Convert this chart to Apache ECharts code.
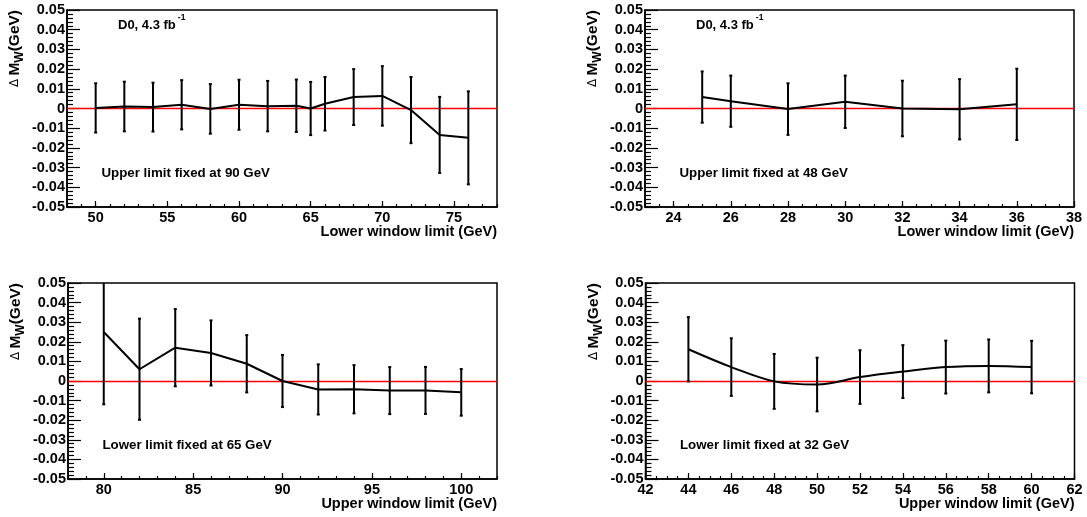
<!DOCTYPE html>
<html>
<head>
<meta charset="utf-8">
<script src="https://cdn.jsdelivr.net/npm/echarts@6/dist/echarts.min.js"></script>
<style>
html,body{margin:0;padding:0;background:#fff;}
#c{width:1087px;height:517px;}
</style>
</head>
<body>
<div id="c"></div>
<script>
// ---- data ----
const p1X = [50, 52, 54, 56, 58, 60, 62, 64, 65, 66, 68, 70, 72, 74, 76];
const p1Y = [0.0003, 0.0010, 0.0007, 0.0019, -0.0002, 0.0019, 0.0012, 0.0014, 0.0000, 0.0024, 0.0058, 0.0064, -0.0008, -0.0134, -0.0149];
const p1E = [0.0125, 0.0126, 0.0124, 0.0125, 0.0126, 0.0127, 0.0128, 0.0133, 0.0135, 0.0136, 0.0142, 0.0151, 0.0168, 0.0193, 0.0236];

const p2X = [25, 26, 28, 30, 32, 34, 36];
const p2Y = [0.0058, 0.0037, -0.0003, 0.0034, 0.0000, -0.0004, 0.0021];
const p2E = [0.0130, 0.0130, 0.0131, 0.0133, 0.0141, 0.0153, 0.0181];

const p3X = [80, 82, 84, 86, 88, 90, 92, 94, 96, 98, 100];
const p3Y = [0.0250, 0.0060, 0.0170, 0.0143, 0.0088, 0.0000, -0.0043, -0.0042, -0.0049, -0.0048, -0.0058];
const p3E = [0.0369, 0.0258, 0.0197, 0.0166, 0.0146, 0.0133, 0.0128, 0.0123, 0.0120, 0.0120, 0.0119];

const p4X = [44, 46, 48, 50, 52, 54, 56, 58, 60];
const p4Y = [0.0162, 0.0071, -0.0002, -0.0018, 0.0020, 0.0048, 0.0071, 0.0077, 0.0071];
const p4E = [0.0164, 0.0147, 0.0140, 0.0137, 0.0137, 0.0135, 0.0135, 0.0135, 0.0134];

// tick labels
const p1Ticks = [50, 55, 60, 65, 70, 75];
const p2Ticks = [24, 26, 28, 30, 32, 34, 36, 38];
const p3Ticks = [80, 85, 90, 95, 100];
const p4Ticks = [42, 44, 46, 48, 50, 52, 54, 56, 58, 60, 62];

const xRanges = [[48, 78], [23, 38], [78, 102], [42, 62]];
const minorSteps = [1, 0.5, 1, 0.5];
const xTitles = ['Lower window limit (GeV)', 'Lower window limit (GeV)', 'Upper window limit (GeV)', 'Upper window limit (GeV)'];
const notes = ['Upper limit fixed at 90 GeV', 'Upper limit fixed at 48 GeV', 'Lower limit fixed at 65 GeV', 'Lower limit fixed at 32 GeV'];

// ---- layout ----
const FONT = '"Liberation Sans", Arial, Helvetica, sans-serif';
const grids = [
  {left: 67, top: 10, width: 430, height: 197},
  {left: 645, top: 10, width: 429, height: 197},
  {left: 68, top: 283, width: 429, height: 196},
  {left: 645.5, top: 283, width: 429, height: 196}
];

function minorList(r, step) {
  const out = [];
  for (let v = r[0]; v <= r[1] + 1e-9; v += step) out.push(Math.round(v * 100) / 100);
  return out;
}

const panels = [
  {x: p1X, y: p1Y, e: p1E, ticks: p1Ticks, smooth: false},
  {x: p2X, y: p2Y, e: p2E, ticks: p2Ticks, smooth: false},
  {x: p3X, y: p3Y, e: p3E, ticks: p3Ticks, smooth: false},
  {x: p4X, y: p4Y, e: p4E, ticks: p4Ticks, smooth: 0.35}
];

const xAxes = [], yAxes = [], series = [], graphics = [];
panels.forEach((p, i) => {
  const r = xRanges[i];
  xAxes.push({
    type: 'value', gridIndex: i, min: r[0], max: r[1], position: 'bottom',
    axisLine: {show: true, onZero: false, lineStyle: {color: '#000', width: 1.5}},
    axisTick: {show: true, inside: true, length: 6, customValues: p.ticks, lineStyle: {color: '#000', width: 1.2}},
    axisLabel: {show: true, customValues: p.ticks, margin: 3, color: '#000', fontFamily: FONT, fontWeight: 'bold', fontSize: 14.5},
    splitLine: {show: false}
  });
  xAxes.push({
    type: 'value', gridIndex: i, min: r[0], max: r[1], position: 'bottom',
    axisLine: {show: false, onZero: false},
    axisTick: {show: true, inside: true, length: 3, customValues: minorList(r, minorSteps[i]), lineStyle: {color: '#000', width: 1.2}},
    axisLabel: {show: false},
    splitLine: {show: false}
  });
  yAxes.push({
    type: 'value', gridIndex: i, min: -0.05, max: 0.05, interval: 0.01,
    axisLine: {show: true, onZero: false, lineStyle: {color: '#000', width: 1.5}},
    axisTick: {show: true, inside: true, length: 13, lineStyle: {color: '#000', width: 1.2}},
    minorTick: {show: true, splitNumber: 5, length: 6, lineStyle: {color: '#000', width: 1.2}},
    axisLabel: {
      margin: 2, color: '#000', fontFamily: FONT, fontWeight: 'bold', fontSize: 14.5,
      formatter: v => { const q = Math.round(v * 100) / 100; return q === 0 ? '0' : q.toFixed(2); }
    },
    splitLine: {show: false}
  });
  series.push({
    type: 'line', xAxisIndex: 2 * i, yAxisIndex: i,
    data: p.x.map((x, k) => [x, p.y[k]]),
    showSymbol: false, symbol: 'none', smooth: p.smooth,
    lineStyle: {color: '#000', width: 2}, z: 3,
    markLine: {
      silent: true, symbol: 'none', label: {show: false},
      lineStyle: {color: '#ff0000', width: 1.3, type: 'solid'},
      data: [{yAxis: 0}], z: 2, animation: false
    },
    animation: false
  });
  series.push({
    type: 'custom', xAxisIndex: 2 * i, yAxisIndex: i, clip: true, z: 4,
    data: p.x.map((x, k) => [x, p.y[k] - p.e[k], p.y[k] + p.e[k]]),
    renderItem: (params, api) => {
      const lo = api.coord([api.value(0), api.value(1)]);
      const hi = api.coord([api.value(0), api.value(2)]);
      return {
        type: 'group', children: [
          {type: 'line', shape: {x1: lo[0], y1: lo[1], x2: hi[0], y2: hi[1]}, style: {stroke: '#000', lineWidth: 2}},
          {type: 'line', shape: {x1: lo[0] - 1.5, y1: lo[1], x2: lo[0] + 1.5, y2: lo[1]}, style: {stroke: '#000', lineWidth: 2}},
          {type: 'line', shape: {x1: hi[0] - 1.5, y1: hi[1], x2: hi[0] + 1.5, y2: hi[1]}, style: {stroke: '#000', lineWidth: 2}}
        ]
      };
    },
    animation: false
  });
  const g = grids[i];
  // x axis title
  graphics.push({
    type: 'text', x: g.left + g.width, y: g.top + g.height + 25,
    style: {text: xTitles[i], fill: '#000', font: 'bold 14.5px ' + FONT, align: 'right', verticalAlign: 'middle'}
  });
  // y axis title
  graphics.push({
    type: 'text', x: g.left - 52, y: g.top, rotation: Math.PI / 2,
    style: {
      text: '{d|Δ} {m|M}{w|W}{m|(GeV)}', align: 'right', verticalAlign: 'middle', fill: '#000',
      rich: {
        d: {fontFamily: 'DejaVu Sans', fontSize: 12, fill: '#000', lineHeight: 22, verticalAlign: 'middle'},
        m: {fontFamily: FONT, fontWeight: 'bold', fontSize: 15.5, fill: '#000', lineHeight: 22, verticalAlign: 'middle'},
        w: {fontFamily: FONT, fontWeight: 'bold', fontSize: 12, fill: '#000', lineHeight: 22, verticalAlign: 'bottom'}
      }
    }
  });
  // note text
  graphics.push({
    type: 'text', x: g.left + 34.5, y: g.top + g.height - 34,
    style: {text: notes[i], fill: '#000', font: 'bold 13.3px ' + FONT, align: 'left', verticalAlign: 'middle'}
  });
  if (i < 2) {
    graphics.push({
      type: 'text', x: g.left + 51, y: g.top + 15,
      style: {
        text: '{a|D0, 4.3 fb}{s|-1}', align: 'left', verticalAlign: 'middle', fill: '#000',
        rich: {
          a: {fontFamily: FONT, fontWeight: 'bold', fontSize: 13, fill: '#000', lineHeight: 24, verticalAlign: 'middle'},
          s: {fontFamily: FONT, fontWeight: 'bold', fontSize: 8.5, fill: '#000', lineHeight: 24, verticalAlign: 'top', padding: [0, 0, 0, 2]}
        }
      }
    });
  }
});

const chart = echarts.init(document.getElementById('c'), null, {renderer: 'canvas'});
chart.setOption({
  backgroundColor: '#fff',
  animation: false,
  grid: grids.map(g => Object.assign({show: true, borderColor: '#000', borderWidth: 1.5, backgroundColor: 'transparent', containLabel: false}, g)),
  xAxis: xAxes,
  yAxis: yAxes,
  series: series,
  graphic: graphics
});
</script>
</body>
</html>
